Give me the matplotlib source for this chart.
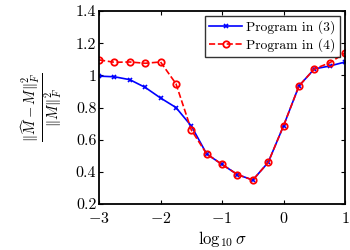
import matplotlib
matplotlib.use("Agg")
from matplotlib import pyplot as plt
import numpy as np

plt.rcParams['mathtext.fontset'] = 'cm'
plt.rcParams['font.family'] = 'serif'
plt.rcParams['font.serif'] = ['cmr10', 'DejaVu Serif']
plt.rcParams['axes.formatter.use_mathtext'] = True

# log10(sigma)
log_sigma = [-3, -2.75, -2.5, -2.25, -2, -1.75, -1.5, -1.25, -1,
             -0.75, -0.5, -0.25, 0, 0.25, 0.5, 0.75, 1]

err_prog3 = [0.995, 0.991, 0.973, 0.925, 0.859, 0.800, 0.685, 0.511, 0.446,
             0.383, 0.349, 0.459, 0.687, 0.934, 1.040, 1.058, 1.083]
err_prog4 = [1.096, 1.081, 1.083, 1.075, 1.083, 0.948, 0.660, 0.511, 0.446,
             0.383, 0.349, 0.459, 0.687, 0.934, 1.040, 1.078, 1.140]

xticks = [-3, -2, -1, 0, 1]
yticks = [0.2, 0.4, 0.6, 0.8, 1.0, 1.2, 1.4]
ytick_labels = ['0.2', '0.4', '0.6', '0.8', '1', '1.2', '1.4']

fig = plt.figure(figsize=(3.5, 2.5), dpi=100)
ax = fig.add_axes([0.283, 0.184, 0.703, 0.772])

ax.plot(log_sigma, err_prog3, '-', color='blue', lw=1.2, marker='x',
        markersize=3, markeredgewidth=1.2, label='Program in (3)')
ax.plot(log_sigma, err_prog4, '--', color='red', lw=1.2, marker='o',
        markersize=4.6, markerfacecolor='none', markeredgewidth=1.3,
        label='Program in (4)')

ax.set_xlim(-3, 1)
ax.set_ylim(0.2, 1.4)
ax.set_xticks(xticks)
ax.set_xticklabels(['$-3$', '$-2$', '$-1$', '$0$', '$1$'])
ax.set_yticks(yticks)
ax.set_yticklabels(ytick_labels)
ax.tick_params(axis='both', direction='in', top=True, right=True,
               labelsize=11.5, length=3, width=0.8)
ax.tick_params(axis='y', pad=2)
ax.tick_params(axis='x', pad=5)
for sp in ax.spines.values():
    sp.set_linewidth(1.3)

ax.set_xlabel(r'$\log_{10}\sigma$', fontsize=12, labelpad=2)
ax.set_ylabel(r'$\frac{\|\widehat{M}-M\|_F^2}{\|M\|_F^2}$', fontsize=15,
              labelpad=8)

leg = ax.legend(loc='upper right', fontsize=9.8, frameon=True, fancybox=False,
                edgecolor='black', borderpad=0.35, handlelength=2.4,
                handletextpad=0.3, labelspacing=0.3, borderaxespad=0.35)
leg.get_frame().set_linewidth(1.0)

fig.savefig('out.png', dpi=100)
